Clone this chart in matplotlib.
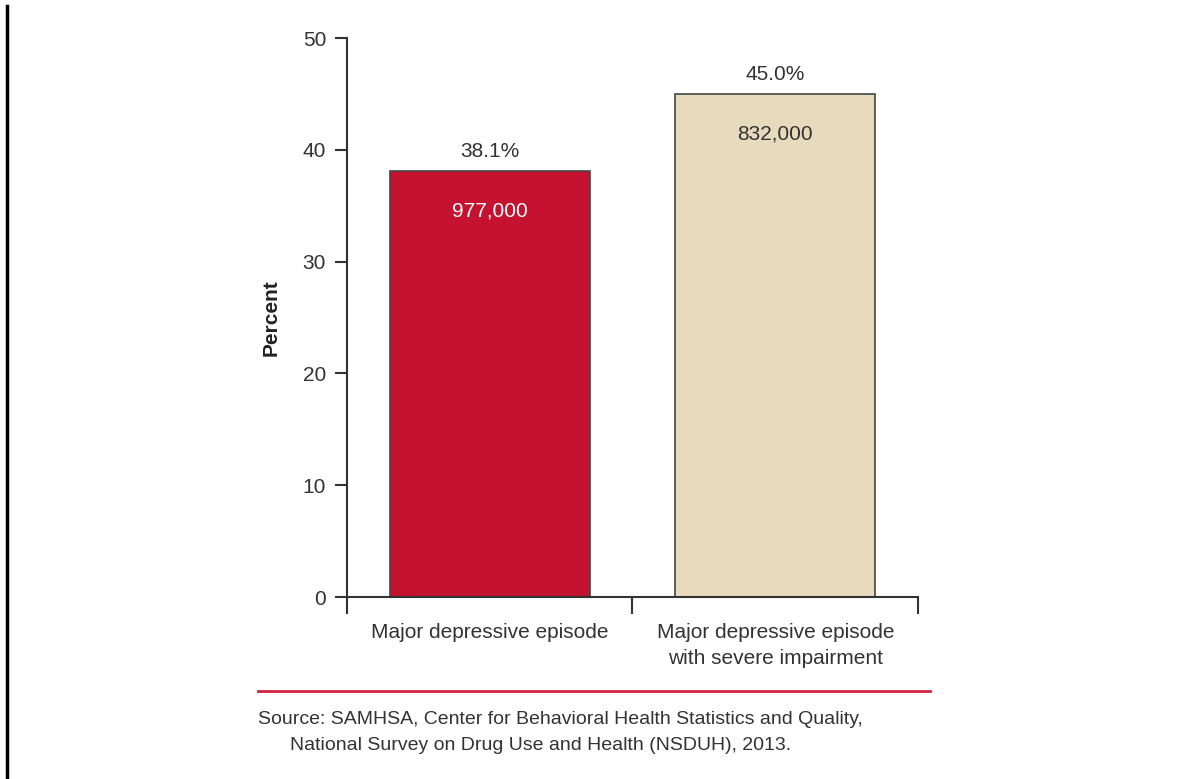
import matplotlib.pyplot as plt
from matplotlib.lines import Line2D

categories = ["Major depressive episode", "Major depressive episode\nwith severe impairment"]
percents = [38.1, 45.0]
counts = ["977,000", "832,000"]
bar_colors = ["#c41230", "#e8dbbd"]
count_colors = ["white", "#333333"]
yticks = [0, 10, 20, 30, 40, 50]

plt.rcParams["font.family"] = ["Liberation Sans", "DejaVu Sans"]

fig = plt.figure(figsize=(11.8, 7.79), dpi=100)
ax = fig.add_axes([0.294, 0.2336, 0.484, 0.7176])

x = list(range(len(categories)))
ax.bar(x, percents, width=0.7, color=bar_colors, edgecolor="#444444", linewidth=1.2)

for i, (p, c) in enumerate(zip(percents, counts)):
    ax.annotate(f"{p:.1f}%", (i, p), xytext=(0, 7), textcoords="offset points",
                ha="center", va="bottom", fontsize=15, color="#333333")
    ax.annotate(c, (i, p), xytext=(0, -22), textcoords="offset points",
                ha="center", va="top", fontsize=15, color=count_colors[i])

ax.set_xlim(-0.5, 1.5)
ax.set_ylim(0, 50)
ax.set_yticks(yticks)
ax.set_yticklabels([str(t) for t in yticks], fontsize=15, color="#333333")
ax.set_xticks([-0.5, 0.5, 1.5])
ax.set_xticklabels([])
ax.tick_params(axis="y", length=9, width=1.5, pad=6, color="#333333")
ax.tick_params(axis="x", length=12, width=1.5, color="#333333")
for i, cat in enumerate(categories):
    ax.text(i, -2.3, cat, ha="center", va="top", fontsize=15, color="#333333",
            linespacing=1.5)

for s in ["top", "right"]:
    ax.spines[s].set_visible(False)
for s in ["left", "bottom"]:
    ax.spines[s].set_linewidth(1.5)
    ax.spines[s].set_color("#333333")

ax.set_ylabel("Percent", fontsize=15, fontweight="bold", color="#222222", labelpad=16)

# red rule and source note
fig.add_artist(Line2D([258 / 1180, 930 / 1180], [1 - 691 / 779] * 2, color="#d0243f", lw=2))
fig.text(258 / 1180, 1 - 720 / 779, "Source: SAMHSA, Center for Behavioral Health Statistics and Quality,",
         fontsize=14, color="#333333", va="center")
fig.text(290 / 1180, 1 - 745 / 779, "National Survey on Drug Use and Health (NSDUH), 2013.",
         fontsize=14, color="#333333", va="center")

# left border
fig.add_artist(Line2D([7 / 1180, 7 / 1180], [0, 1 - 6 / 779], color="black", lw=2.5))

fig.savefig("out.png", dpi=100)
